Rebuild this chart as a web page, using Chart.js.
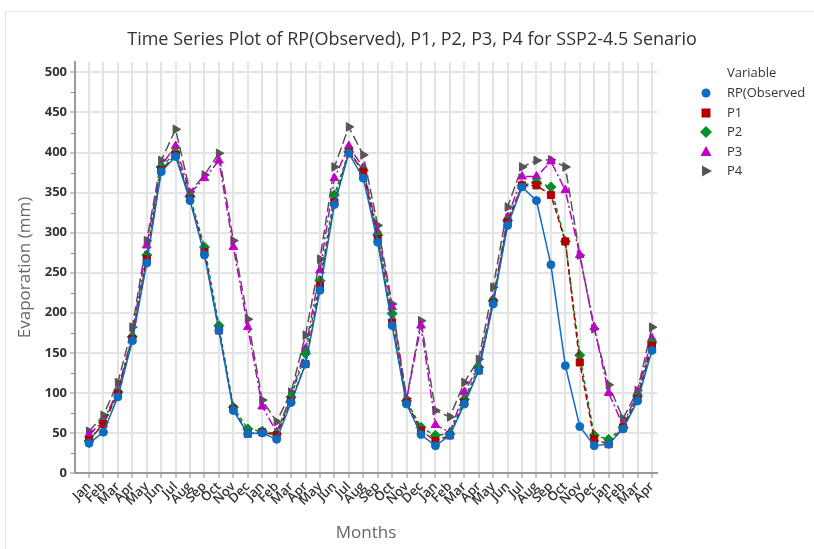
<!DOCTYPE html>
<html>
<head>
<meta charset="utf-8">
<script src="https://cdn.jsdelivr.net/npm/chart.js@4.4.1/dist/chart.umd.min.js"></script>
<style>
  html, body { margin: 0; padding: 0; background: #fff; }
  #wrap { width: 814px; height: 549px; position: relative; }
</style>
</head>
<body>
<div id="wrap"><canvas id="evapChart"></canvas></div>
<script>
// months on the x axis (Jan of year 1 .. Apr of year 4)
const categories = [
    'Jan','Feb','Mar','Apr','May','Jun','Jul','Aug','Sep','Oct','Nov','Dec',
    'Jan','Feb','Mar','Apr','May','Jun','Jul','Aug','Sep','Oct','Nov','Dec',
    'Jan','Feb','Mar','Apr','May','Jun','Jul','Aug','Sep','Oct','Nov','Dec',
    'Jan','Feb','Mar','Apr'
];

// evaporation (mm)
const rpObserved = [37,51,95,165,262,376,395,340,272,178,78,49, 50,42,88,136,228,335,399,368,288,184,86,48, 34,47,86,128,211,309,357,340,260,134,58,34, 36,55,90,153];
const p1 = [41,61,99,167,267,378,397,342,276,178,80,49, 51,47,90,136,234,338,401,376,292,188,88,53, 40,47,88,128,213,313,359,359,347,289,138,42, 36,57,92,159];
const p2 = [40,63,101,170,272,382,400,345,282,184,82,55, 52,49,95,149,240,347,401,378,297,199,90,57, 47,49,92,132,215,315,359,363,357,289,147,47, 42,57,96,163];
const p3 = [48,65,103,172,284,384,408,349,368,390,282,182, 83,51,97,155,253,368,408,381,301,207,92,184, 60,51,101,134,217,319,370,370,389,353,272,182, 100,59,101,168];
const p4 = [52,72,113,182,290,390,429,351,372,399,290,192, 91,64,101,172,267,382,432,397,309,211,93,190, 78,70,113,142,232,332,382,390,391,382,272,180, 110,68,103,182];

const yTicks = [0,50,100,150,200,250,300,350,400,450,500];

const seriesNames = ['RP(Observed', 'P1', 'P2', 'P3', 'P4'];
const seriesData = [rpObserved, p1, p2, p3, p4];
const colors = ['#0b6cc0', '#b00000', '#00902a', '#c000c8', '#555555'];
const shapes = ['circle', 'rect', 'rectRot', 'triangle', 'triangle'];
const rotations = [0, 0, 0, 0, 90];
const radii = [4, 5, 5, 5, 5];
const dashes = [[], [6, 3], [4, 3], [9, 3, 2, 3], [10, 4]];

const FONT = '"Open Sans", "Noto Sans", sans-serif';

const datasets = seriesData.map((vals, k) => ({
    label: seriesNames[k],
    data: vals.map((v, i) => ({ x: i, y: v })),
    borderColor: colors[k],
    backgroundColor: colors[k],
    borderWidth: 1.5,
    borderDash: dashes[k],
    pointStyle: shapes[k],
    rotation: rotations[k],
    pointRadius: radii[k],
    pointBorderWidth: 1,
    tension: 0
}));

// title, legend, minor ticks and frame
const decor = {
    id: 'decor',
    afterDraw(chart) {
        const ctx = chart.ctx;
        const y = chart.scales.y;
        ctx.save();

        // faint frame
        ctx.strokeStyle = '#e2e2e2';
        ctx.lineWidth = 1;
        ctx.beginPath();
        ctx.moveTo(5.5, 549);
        ctx.lineTo(5.5, 11.5);
        ctx.lineTo(814, 11.5);
        ctx.stroke();

        // minor y ticks
        ctx.strokeStyle = '#888';
        ctx.lineWidth = 1;
        for (let v = 25; v < 513; v += 50) {
            const py = Math.round(y.getPixelForValue(v)) + 0.5;
            ctx.beginPath();
            ctx.moveTo(chart.chartArea.left - 4, py);
            ctx.lineTo(chart.chartArea.left, py);
            ctx.stroke();
        }

        // title
        ctx.fillStyle = '#333';
        ctx.font = '18px ' + FONT;
        ctx.textAlign = 'center';
        ctx.textBaseline = 'middle';
        ctx.fillText('Time Series Plot of RP(Observed), P1, P2, P3, P4 for SSP2-4.5 Senario', 412, 40);

        // legend
        ctx.font = '13px ' + FONT;
        ctx.textAlign = 'left';
        ctx.fillStyle = '#333';
        ctx.fillText('Variable', 727, 73);
        const rowY = [93, 113, 132, 152, 171];
        seriesNames.forEach((name, k) => {
            const cx = 706, cy = rowY[k];
            ctx.fillStyle = colors[k];
            ctx.beginPath();
            if (k === 0) {
                ctx.arc(cx, cy, 4.5, 0, Math.PI * 2);
            } else if (k === 1) {
                ctx.rect(cx - 4.5, cy - 4.5, 9, 9);
            } else if (k === 2) {
                ctx.moveTo(cx, cy - 6); ctx.lineTo(cx + 6, cy); ctx.lineTo(cx, cy + 6); ctx.lineTo(cx - 6, cy);
                ctx.closePath();
            } else if (k === 3) {
                ctx.moveTo(cx, cy - 6); ctx.lineTo(cx + 5.5, cy + 4); ctx.lineTo(cx - 5.5, cy + 4);
                ctx.closePath();
            } else {
                ctx.moveTo(cx + 6, cy); ctx.lineTo(cx - 4, cy - 5.5); ctx.lineTo(cx - 4, cy + 5.5);
                ctx.closePath();
            }
            ctx.fill();
            ctx.fillStyle = '#333';
            ctx.fillText(name, 727, cy);
        });
        ctx.restore();
    }
};

new Chart(document.getElementById('evapChart'), {
    type: 'line',
    data: { datasets: datasets },
    options: {
        responsive: true,
        maintainAspectRatio: false,
        animation: false,
        layout: { padding: { top: 62, right: 157, left: 0, bottom: 0 } },
        plugins: { legend: { display: false }, title: { display: false }, tooltip: { enabled: false } },
        scales: {
            x: {
                type: 'linear',
                min: -0.97,
                max: 39.35,
                afterBuildTicks: (scale) => { scale.ticks = categories.map((_, i) => ({ value: i })); },
                afterFit: (scale) => { scale.height = 76; },
                ticks: {
                    autoSkip: false,
                    minRotation: 45,
                    maxRotation: 45,
                    padding: 1,
                    color: '#333',
                    font: { family: FONT, size: 13, weight: '600' },
                    callback: (v) => categories[v]
                },
                grid: { color: '#e4e4e4', lineWidth: 2, tickLength: 5, tickColor: '#888', tickWidth: 1 },
                border: { color: '#999', width: 2 },
                title: { display: true, text: 'Months', color: '#666', font: { family: FONT, size: 17 }, padding: { top: 0, bottom: 6 } }
            },
            y: {
                min: 0,
                max: 513,
                afterBuildTicks: (scale) => { scale.ticks = yTicks.map(v => ({ value: v })); },
                afterFit: (scale) => { scale.width = 75; },
                ticks: { color: '#333', padding: 3, font: { family: FONT, size: 13, weight: 'bold' } },
                grid: { color: '#e4e4e4', lineWidth: 2, tickLength: 5, tickColor: '#888', tickWidth: 1 },
                border: { color: '#999', width: 2 },
                title: { display: true, text: 'Evaporation (mm)', color: '#666', font: { family: FONT, size: 17 }, padding: { top: 15, bottom: 0 } }
            }
        }
    },
    plugins: [decor]
});
</script>
</body>
</html>
